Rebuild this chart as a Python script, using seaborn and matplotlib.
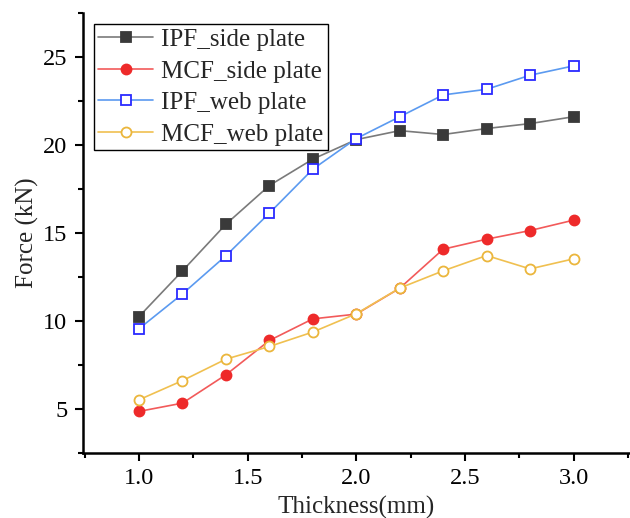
import numpy as np
import pandas as pd
import matplotlib
matplotlib.use("Agg")
import matplotlib.pyplot as plt
import seaborn as sns
from matplotlib.ticker import MultipleLocator

# Plate thickness (mm)
thickness = [1.0, 1.2, 1.4, 1.6, 1.8, 2.0, 2.2, 2.4, 2.6, 2.8, 3.0]

# Force (kN) for each configuration
ipf_side = [10.24, 12.84, 15.49, 17.69, 19.19, 20.30, 20.81, 20.59, 20.93, 21.21, 21.60]
mcf_side = [4.85, 5.32, 6.93, 8.88, 10.11, 10.38, 11.85, 14.07, 14.64, 15.13, 15.72]
ipf_web = [9.55, 11.53, 13.70, 16.12, 18.62, 20.36, 21.60, 22.84, 23.16, 23.96, 24.49]
mcf_web = [5.51, 6.60, 7.82, 8.54, 9.36, 10.40, 11.86, 12.84, 13.71, 12.95, 13.52]

series_labels = ["IPF_side plate", "MCF_side plate", "IPF_web plate", "MCF_web plate"]
x_label = "Thickness(mm)"
y_label = "Force (kN)"

sns.set_style("ticks")
plt.rcParams["font.family"] = ["Liberation Serif", "DejaVu Serif"]

fig = plt.figure(figsize=(6.30, 5.18), dpi=100)
ax = fig.add_axes([0.131, 0.126, 0.869, 0.849])

styles = [
    # (values, line colour, marker, face colour, edge colour)
    (ipf_side, "#7a7a7a", "s", "#3a3a3a", "#3a3a3a"),
    (mcf_side, "#f25a5a", "o", "#ee2a2a", "#ee2a2a"),
    (ipf_web, "#5b9af0", "s", "white", "#2a2aff"),
    (mcf_web, "#f0c050", "o", "white", "#ebb63c"),
]

for (vals, lc, mk, fc, ec), lab in zip(styles, series_labels):
    df = pd.DataFrame({"thickness": thickness, "force": vals})
    sns.lineplot(data=df, x="thickness", y="force", ax=ax, color=lc,
                 linewidth=1.2, marker=mk, markersize=7.2,
                 markerfacecolor=fc, markeredgecolor=ec, markeredgewidth=1.3,
                 label=lab)

ax.set_xlim(0.74, 3.26)
ax.set_ylim(2.5, 27.5)
ax.xaxis.set_major_locator(MultipleLocator(0.5))
ax.xaxis.set_minor_locator(MultipleLocator(0.25))
ax.yaxis.set_major_locator(MultipleLocator(5))
ax.yaxis.set_minor_locator(MultipleLocator(2.5))
ax.set_yticks([5, 10, 15, 20, 25])

for side in ["top", "right"]:
    ax.spines[side].set_visible(False)
for side in ["left", "bottom"]:
    ax.spines[side].set_linewidth(1.8)
    ax.spines[side].set_color("black")

ax.tick_params(which="major", direction="out", length=6, width=1.5,
               labelsize=17.5, pad=5, colors="black")
ax.tick_params(which="minor", direction="out", length=3.5, width=1.5,
               colors="black")

ax.set_xlabel(x_label, fontsize=18, labelpad=5)
ax.set_ylabel(y_label, fontsize=18, labelpad=3)

leg = ax.legend(loc="upper left", fontsize=18, frameon=True, fancybox=False,
                edgecolor="black", framealpha=1, borderpad=0.18,
                labelspacing=0.36, handlelength=2.2, handletextpad=0.3,
                borderaxespad=0.45)
leg.get_frame().set_linewidth(1.0)

fig.savefig("out.png", dpi=100)
